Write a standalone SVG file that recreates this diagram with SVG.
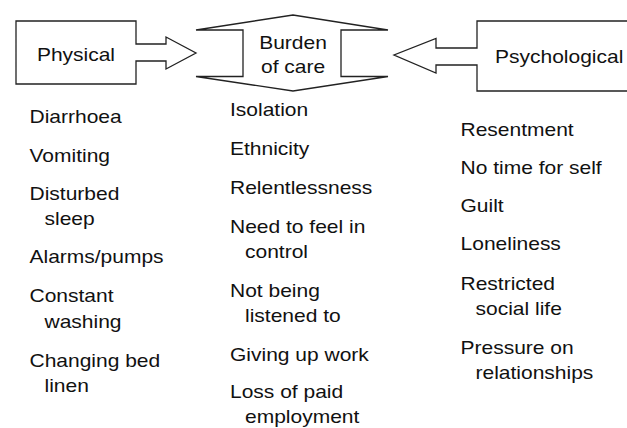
<svg xmlns="http://www.w3.org/2000/svg" width="627" height="428" viewBox="0 0 627 428">
<style>
.shape{fill:#fff;stroke:#222;stroke-width:1.3;stroke-linejoin:miter}
text{font-family:"Liberation Sans",Arial,sans-serif;font-size:17.5px;fill:#111}
.c{text-anchor:middle}
</style>
<rect width="627" height="428" fill="#fff"/>
<g id="connectors"/>
<g id="physical">
<path class="shape" d="M16,21 H136 V44 H166 V37 L196,53 L166,69 V61 H136 V84 H16 Z"/>
<g transform="scale(1.2 1)"><text class="c" x="63.3" y="61">Physical</text></g>
</g>
<g id="burden">
<path class="shape" d="M196,30 L293,15 L388,30 H341 V76.5 H388 L293,91 L196,76.5 H243 V30 Z"/>
<g transform="scale(1.2 1)"><text class="c" x="244.2" y="49">Burden</text><text class="c" x="244.2" y="72.7">of care</text></g>
</g>
<g id="psychological">
<path class="shape" d="M640,21 H477 V48 H436 V38.5 L394,55 L436,73 V65 H477 V91 H640"/>
<g transform="scale(1.2 1)"><text class="c" x="466" y="63.3">Psychological</text></g>
</g>
<g id="physical-list" transform="scale(1.2 1)">
<text x="24.6" y="123.3">Diarrhoea</text>
<text x="24.6" y="162.5">Vomiting</text>
<text x="24.6" y="200">Disturbed</text>
<text x="37.1" y="225">sleep</text>
<text x="24.6" y="263">Alarms/pumps</text>
<text x="24.6" y="302.5">Constant</text>
<text x="37.1" y="328">washing</text>
<text x="24.6" y="366.5">Changing bed</text>
<text x="37.1" y="392">linen</text>
</g>
<g id="burden-list" transform="scale(1.2 1)">
<text x="191.7" y="116.5">Isolation</text>
<text x="191.7" y="155">Ethnicity</text>
<text x="191.7" y="194">Relentlessness</text>
<text x="191.7" y="233">Need to feel in</text>
<text x="204.2" y="258">control</text>
<text x="191.7" y="297">Not being</text>
<text x="204.2" y="322">listened to</text>
<text x="191.7" y="361">Giving up work</text>
<text x="191.7" y="398.5">Loss of paid</text>
<text x="204.2" y="423">employment</text>
</g>
<g id="psychological-list" transform="scale(1.2 1)">
<text x="383.8" y="136">Resentment</text>
<text x="383.8" y="174">No time for self</text>
<text x="383.8" y="212.5">Guilt</text>
<text x="383.8" y="250.5">Loneliness</text>
<text x="383.8" y="290">Restricted</text>
<text x="396.3" y="315">social life</text>
<text x="383.8" y="354">Pressure on</text>
<text x="396.3" y="379">relationships</text>
</g>
</svg>
